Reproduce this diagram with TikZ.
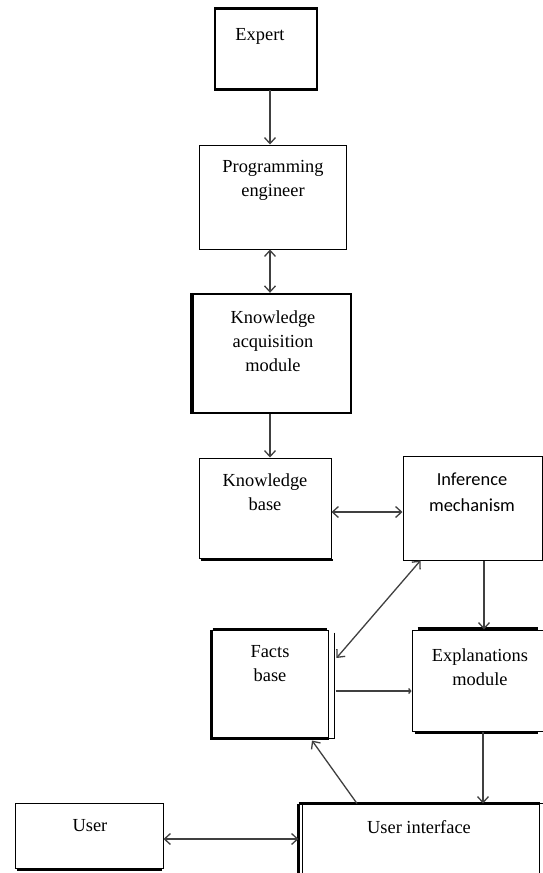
\documentclass[tikz,border=0pt]{standalone}
\usepackage{fontspec}
\setmainfont{Liberation Serif}
\newfontfamily\calibfont{Carlito}
\usetikzlibrary{arrows.meta,calc}
\begin{document}
\begin{tikzpicture}[x=1pt,y=-1pt,
 box/.style={draw=black, line width=1pt, rectangle, inner sep=0pt},
 lbl/.style={align=center, font=\rmfamily\fontsize{18.4}{24}\selectfont, inner sep=0pt},
 arr/.style={draw=black!75, line width=1.3pt, -{Straight Barb[length=6pt,width=11pt]}},
 darr/.style={draw=black!75, line width=1.3pt, {Straight Barb[length=6pt,width=11pt]}-{Straight Barb[length=6pt,width=11pt]}},
 sarr/.style={draw=black!75, line width=1.3pt, -{Straight Barb[length=2pt,width=5pt]}},
]
\useasboundingbox (0,0) rectangle (543,873);
\clip (0,0) rectangle (543,873);

% boxes
\node[box, line width=1.6pt, minimum width=102pt, minimum height=80pt] (exp) at (266,49) {};
\draw[line width=3pt] (exp.north west) -- (exp.north east);
\draw[line width=3pt] (exp.south west) -- (exp.south east);
\node[lbl] (expT) at (260,36) {Expert};

\node[box, minimum width=147pt, minimum height=104pt] (prog) at (272.5,197) {};
\node[lbl] (progT) at (273,180) {Programming\\engineer};

\node[box, line width=2.4pt, minimum width=158pt, minimum height=119pt] (kam) at (272,353.5) {};
\draw[line width=3.2pt] (kam.north west) -- (kam.south west);
\node[lbl] (kamT) at (273,341) {Knowledge\\acquisition\\module};

\node[box, minimum width=132pt, minimum height=100pt] (kb) at (265,508) {};
\draw[line width=1.6pt] ([xshift=2pt,yshift=-1.5pt]kb.south west) -- ([xshift=1pt,yshift=-1.5pt]kb.south east);
\node[lbl] (kbT) at (265,492) {Knowledge\\base};

\node[box, minimum width=139pt, minimum height=104pt] (im) at (472.5,508) {};
\node[lbl, font=\calibfont\fontsize{18.4}{26}\selectfont] (imT) at (472,492) {Inference\\mechanism};

\node[box, minimum width=134pt, minimum height=101pt] (ex) at (479,680.5) {};
\draw[line width=3pt] ([xshift=6pt,yshift=1.5pt]ex.north west) -- ([xshift=-9pt,yshift=1.5pt]ex.north east);
\draw[line width=1.6pt] ([xshift=3pt,yshift=-1.5pt]ex.south west) -- ([xshift=-9pt,yshift=-1.5pt]ex.south east);
\node[lbl] (exT) at (480,667) {Explanations\\module};

\node[box, minimum width=116pt, minimum height=108pt] (fb) at (270,684) {};
\draw[line width=3pt] (fb.north west) -- (fb.south west) -- (fb.south east);
\draw[line width=3pt] ([xshift=1pt]fb.north west) -- ([xshift=-2pt]fb.north east);
\draw[line width=1pt] ([xshift=6pt,yshift=-3pt]fb.north east) -- ([xshift=6pt]fb.south east) -- (fb.south east);
\node[lbl] (fbT) at (270,664) {Facts\\base};

\node[box, minimum width=240pt, minimum height=90pt] (ui) at (419,849) {};
\draw[line width=2.2pt] (ui.north west) -- (ui.north east);
\draw[line width=3pt] (ui.north west) -- (ui.south west);
\draw[line width=1pt] ([xshift=4pt]ui.north west) -- ([xshift=4pt]ui.south west);
\draw[line width=1pt] ([xshift=4pt]ui.north east) -- ([xshift=4pt]ui.south east);
\draw[line width=1pt] (ui.north east) -- ([xshift=4pt]ui.north east);
\node[lbl] (uiT) at (419,827) {User interface};

\node[box, minimum width=148pt, minimum height=65pt] (user) at (89,835.5) {};
\draw[line width=1.6pt] ([xshift=2pt,yshift=-1.5pt]user.south west) -- ([xshift=-2pt,yshift=-1.5pt]user.south east);
\node[lbl] (userT) at (90,826) {User};

% connectors
\draw[arr] ([xshift=4pt]exp.south) -- ([xshift=-2.5pt]prog.north);
\draw[darr] ([xshift=-2.5pt]prog.south) -- ([xshift=-2pt]kam.north);
\draw[arr] ([xshift=-2pt]kam.south) -- ([xshift=5pt]kb.north);
\draw[darr] ([yshift=-4pt]kb.east) -- ([yshift=-4pt]im.west);
\draw[arr] ([xshift=11.5pt]im.south) -- ([xshift=5pt]ex.north);
\draw[darr] ([xshift=8pt,yshift=26pt]fb.east) -- ([xshift=-52pt]im.south);
\draw[sarr] ([xshift=7pt,yshift=-7pt]fb.east) -- ([yshift=-10.5pt]ex.west);
\draw[arr] ([xshift=4pt]ex.south) -- ([xshift=64pt]ui.north);
\draw[arr] ([xshift=-62pt]ui.north) -- ([xshift=42pt,yshift=-2pt]fb.south);
\draw[darr] ([yshift=-3.5pt]user.east) -- ([yshift=10pt]ui.west);
\end{tikzpicture}
\end{document}
